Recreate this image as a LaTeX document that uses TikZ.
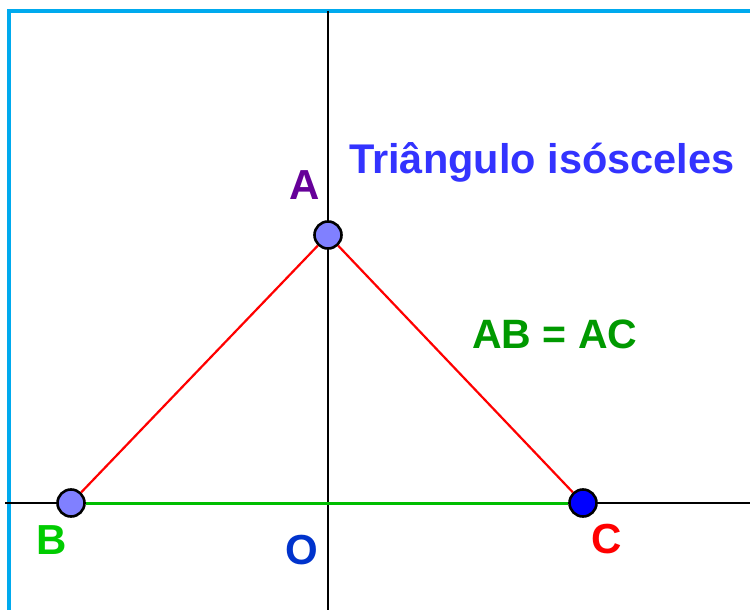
\documentclass[tikz,border=0pt]{standalone}
\usepackage{fontspec}
\setmainfont{Liberation Sans}
\usepackage{xcolor}
\usetikzlibrary{positioning}
\definecolor{frameblue}{RGB}{0,170,238}
\definecolor{ptlight}{RGB}{128,128,255}
\definecolor{ptdark}{RGB}{0,0,255}
\definecolor{titleblue}{RGB}{51,51,255}
\definecolor{apurple}{RGB}{102,0,153}
\definecolor{bgreen}{RGB}{0,204,0}
\definecolor{eqgreen}{RGB}{0,153,0}
\definecolor{oblue}{RGB}{0,51,204}
\definecolor{sidegreen}{RGB}{0,190,0}

\begin{document}
\begin{tikzpicture}[x=1pt,y=-1pt,font=\fontsize{42}{42}\selectfont\bfseries,
  pt/.style={circle,draw=black,line width=2.6pt,minimum size=27pt,inner sep=0pt}]
\useasboundingbox (0,0) rectangle (750,610);
% frame
\draw[frameblue,line width=3.5pt] (9,615) -- (9,11) -- (755,11);
% axes
\coordinate (ytop) at (328,11);
\coordinate (ybot) at (328,615);
\coordinate (xleft) at (5,503);
\coordinate (xright) at (755,503);
\draw[line width=2.6pt] (ytop) -- (ybot);
\draw[line width=2.6pt] (xleft) -- (xright);
% vertices
\node[pt,fill=ptlight] (A) at (328,235) {};
\node[pt,fill=ptlight] (B) at (71,503) {};
\node[pt,fill=ptdark] (C) at (583,503) {};
% sides
\draw[red,line width=2.2pt] (B) -- (A) -- (C);
\draw[sidegreen,line width=3pt] (B) -- (C);
% labels
\node[apurple] (labA) at (305,185) {A};
\node[bgreen] (labB) at (52,540) {B};
\node[red] (labC) at (607,539) {C};
\node[oblue] (labO) at (302,550) {O};
\node[titleblue,anchor=base west,inner sep=0pt,font=\fontsize{41.5}{42}\selectfont\bfseries] (title) at (349,173) {Triângulo isósceles};
\node[eqgreen,anchor=base west,inner sep=0pt,font=\fontsize{41}{42}\selectfont\bfseries] (eq) at (472,348) {AB = AC};
\end{tikzpicture}
\end{document}
